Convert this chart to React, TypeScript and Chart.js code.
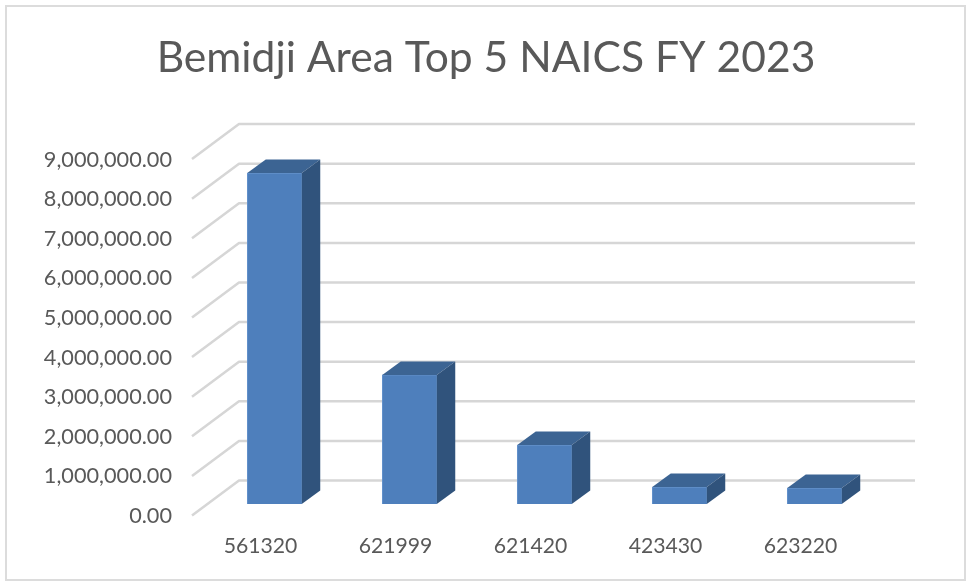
import React, { useEffect, useRef } from "react";
import { Chart, registerables } from "chart.js";

Chart.register(...registerables);

const titleText = "Bemidji Area Top 5 NAICS FY 2023";
const categories = ["561320", "621999", "621420", "423430", "623220"];
const amounts = [8360000, 3260000, 1490000, 430000, 405000];
const axisMax = 9000000;
const axisStep = 1000000;

const FONT = "Lato, Carlito, sans-serif";
const TEXT = "#595959";
const GRID = "#d6d6d6";
const FRONT = "#4e7fbc";
const FRONT_EDGE = "#6492cb";
const TOP_FACE = "#3c6493";
const SIDE_FACE = "#30537c";

const BAR_DX = 18.5;
const BAR_DY = 13.5;

const frame3d = {
  id: "frame3d",
  beforeDraw(chart: any) {
    const { ctx, width, height } = chart;
    ctx.save();
    ctx.fillStyle = "#ffffff";
    ctx.fillRect(0, 0, width, height);
    ctx.strokeStyle = "#dcdcdc";
    ctx.lineWidth = 2;
    ctx.strokeRect(6, 6, 959, 574);
    ctx.restore();
  },
  beforeDatasetsDraw(chart: any) {
    const { ctx, chartArea, scales } = chart;
    const y = scales.y;
    ctx.save();
    ctx.strokeStyle = GRID;
    ctx.lineWidth = 2.5;
    ctx.lineJoin = "round";
    for (const t of y.ticks) {
      const p = y.getPixelForValue(t.value);
      ctx.beginPath();
      ctx.moveTo(chartArea.left - 15, p + 11.5);
      ctx.lineTo(chartArea.left + 32, p - 23.5);
      ctx.lineTo(chartArea.right + 33, p - 23.5);
      ctx.stroke();
    }
    ctx.restore();
  },
  afterDatasetsDraw(chart: any) {
    const { ctx } = chart;
    const meta = chart.getDatasetMeta(0);
    ctx.save();
    for (const bar of meta.data) {
      const p = bar.getProps(["x", "y", "base", "width"], true);
      const l = p.x - p.width / 2;
      const r = p.x + p.width / 2;
      ctx.fillStyle = TOP_FACE;
      ctx.beginPath();
      ctx.moveTo(l, p.y);
      ctx.lineTo(l + BAR_DX, p.y - BAR_DY);
      ctx.lineTo(r + BAR_DX, p.y - BAR_DY);
      ctx.lineTo(r, p.y);
      ctx.closePath();
      ctx.fill();
      ctx.fillStyle = SIDE_FACE;
      ctx.beginPath();
      ctx.moveTo(r, p.y);
      ctx.lineTo(r + BAR_DX, p.y - BAR_DY);
      ctx.lineTo(r + BAR_DX, p.base - BAR_DY);
      ctx.lineTo(r, p.base);
      ctx.closePath();
      ctx.fill();
    }
    ctx.restore();
  },
};

export default function App() {
  const ref = useRef<HTMLCanvasElement>(null);
  useEffect(() => {
    const chart = new Chart(ref.current as HTMLCanvasElement, {
      type: "bar",
      data: {
        labels: categories,
        datasets: [
          {
            data: amounts,
            yAxisID: "y",
            backgroundColor: FRONT,
            borderColor: FRONT_EDGE,
            borderWidth: 1,
            barThickness: 54.5,
          },
        ],
      },
      plugins: [frame3d],
      options: {
        responsive: false,
        animation: false,
        layout: { padding: { left: 5, right: 0, top: 0, bottom: 0 } },
        plugins: {
          legend: { display: false },
          tooltip: { enabled: false },
          title: {
            display: true,
            text: titleText,
            color: TEXT,
            font: { family: FONT, size: 42.6, weight: "normal", lineHeight: 1.2 },
            padding: { top: 32.5, bottom: 64 },
          },
        },
        scales: {
          x: {
            grid: { display: false, drawTicks: false },
            border: { display: false },
            afterFit(s: any) {
              s.height = 77;
            },
            ticks: {
              color: TEXT,
              font: { family: FONT, size: 21.2 },
              padding: 29,
              labelOffset: -14,
              maxRotation: 0,
              autoSkip: false,
            },
          },
          y: {
            min: 0,
            max: axisMax,
            grid: { display: false, drawTicks: false },
            border: { display: false },
            afterFit(s: any) {
              s.width = 202;
            },
            ticks: {
              stepSize: axisStep,
              color: TEXT,
              font: { family: FONT, size: 21.7 },
              padding: 35,
              labelOffset: 12,
              callback: (v: any) =>
                Number(v).toLocaleString("en-US", {
                  minimumFractionDigits: 2,
                  maximumFractionDigits: 2,
                }),
            },
          },
          yRightSpace: {
            position: "right",
            min: 0,
            max: axisMax,
            grid: { display: false, drawTicks: false },
            border: { display: false },
            ticks: { display: false },
            afterFit(s: any) {
              s.width = 85;
            },
          },
        },
      },
    } as any);
    return () => chart.destroy();
  }, []);
  return (
    <div style={{ position: "absolute", left: 0, top: 0, width: 967, height: 581 }}>
      <canvas ref={ref} width={967} height={581} style={{ display: "block" }} />
    </div>
  );
}
